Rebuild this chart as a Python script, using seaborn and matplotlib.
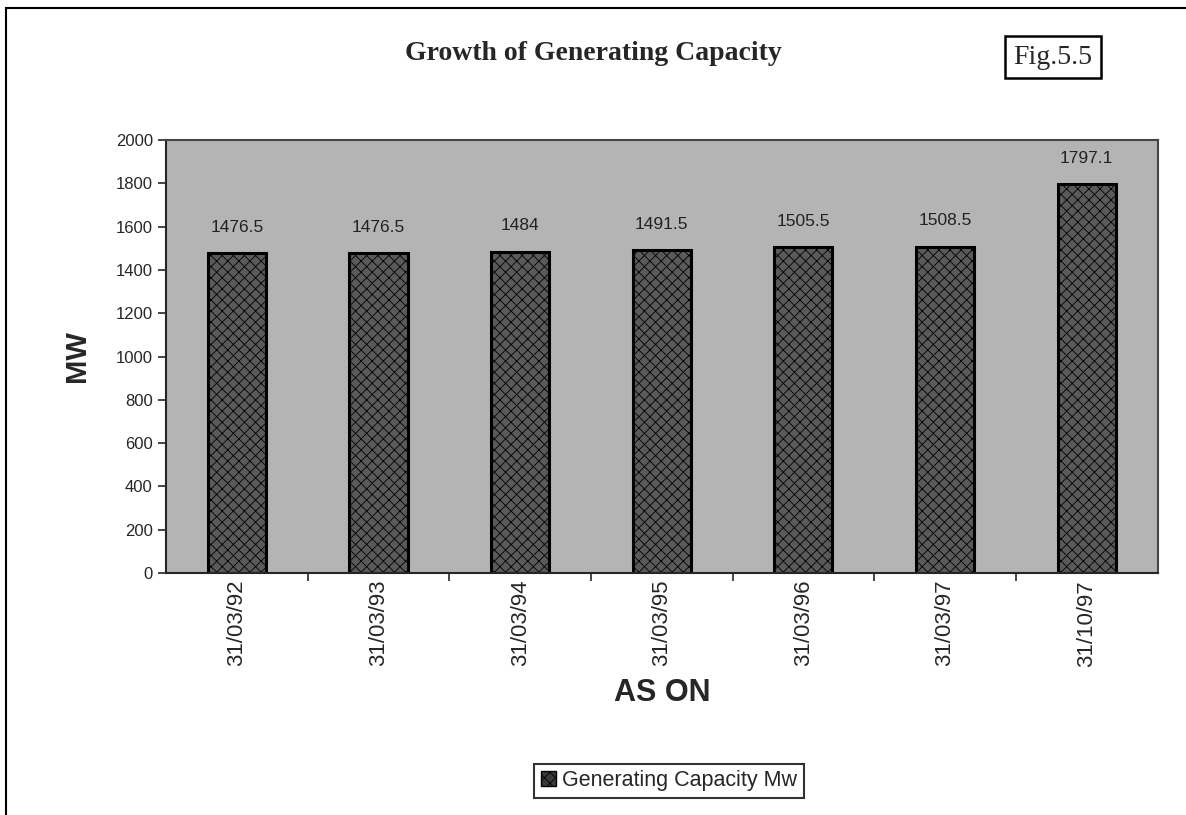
import matplotlib.pyplot as plt
import matplotlib.patches as mpatches
import pandas as pd
import seaborn as sns

# Data
dates = ['31/03/92', '31/03/93', '31/03/94', '31/03/95', '31/03/96', '31/03/97', '31/10/97']
capacity = [1476.5, 1476.5, 1484, 1491.5, 1505.5, 1508.5, 1797.1]
labels = ['1476.5', '1476.5', '1484', '1491.5', '1505.5', '1508.5', '1797.1']

df = pd.DataFrame({'date': dates, 'mw': capacity})

sns.set_style('white')
plt.rcParams['font.family'] = ['Liberation Sans', 'DejaVu Sans']
plt.rcParams['hatch.color'] = '#8a8a8a'
plt.rcParams['hatch.linewidth'] = 0.6

fig = plt.figure(figsize=(11.86, 8.15), dpi=100)
ax = fig.add_axes([0.140, 0.297, 0.836, 0.531])
ax.set_facecolor('#b4b4b4')

sns.barplot(data=df, x='date', y='mw', ax=ax, width=0.41, color='#5a5a5a',
            edgecolor='black', linewidth=2.2, hatch='xxx', saturation=1)

for i, (v, t) in enumerate(zip(capacity, labels)):
    ax.text(i, v + 85, t, ha='center', va='bottom', fontsize=12.5, color='#222222')

ax.set_ylim(0, 2000)
ax.set_xlim(-0.5, 6.5)
ax.set_yticks(range(0, 2001, 200))
ax.tick_params(axis='y', labelsize=12, length=6, width=1.2, direction='out', left=True)
ax.tick_params(axis='x', which='major', length=0, labelsize=16, rotation=90, pad=5)
ax.set_xticks([i + 0.5 for i in range(6)], minor=True)
ax.tick_params(axis='x', which='minor', length=6, width=1.2, direction='out', bottom=True)

for s in ['top', 'right']:
    ax.spines[s].set_visible(True)
    ax.spines[s].set_color('#444444')
    ax.spines[s].set_linewidth(1.5)
ax.spines['left'].set_linewidth(1.5)
ax.spines['bottom'].set_linewidth(1.5)

ax.set_ylabel('MW', fontsize=21, fontweight='bold', labelpad=18)
ax.set_xlabel('AS ON', fontsize=22, fontweight='bold', labelpad=8)

fig.text(0.500, 0.934, 'Growth of Generating Capacity', ha='center', va='center',
         fontsize=20, fontweight='bold', family='Liberation Serif')
fig.text(0.888, 0.930, 'Fig.5.5', ha='center', va='center', fontsize=20,
         family='Liberation Serif',
         bbox=dict(boxstyle='square,pad=0.3', fc='white', ec='black', lw=1.8))

handle = mpatches.Patch(facecolor='#3a3a3a', edgecolor='black', hatch='xxx',
                        label='Generating Capacity Mw')
fig.legend(handles=[handle], loc='center', bbox_to_anchor=(0.564, 0.042),
           frameon=True, fancybox=False, edgecolor='black', fontsize=15.5,
           handlelength=0.7, handleheight=0.7, handletextpad=0.3,
           borderpad=0.3).get_frame().set_linewidth(1.5)

# outer frame of the scanned page
fig.patches.append(mpatches.Rectangle((0.005, -0.01), 1.2, 1.0, transform=fig.transFigure,
                                      fill=False, edgecolor='black', lw=1.5))

fig.savefig('out.png', dpi=100)
